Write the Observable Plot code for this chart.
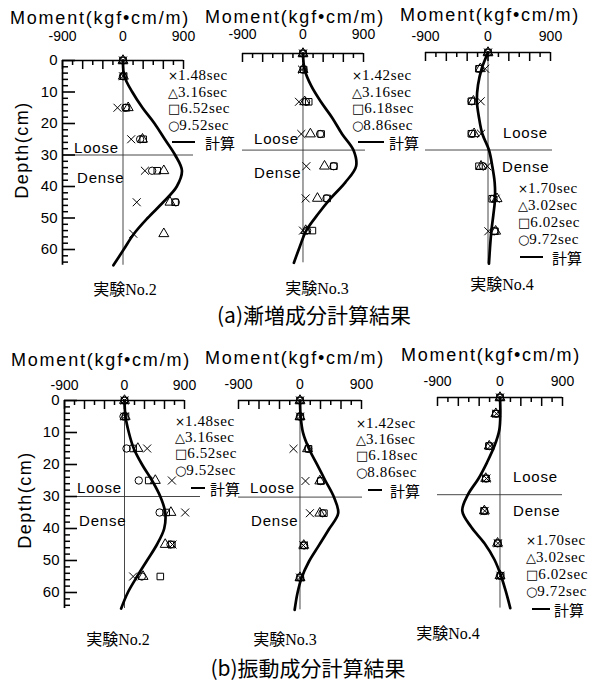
<!DOCTYPE html>
<html><head><meta charset="utf-8">
<script src="https://cdn.jsdelivr.net/npm/d3@7"></script>
<script src="https://cdn.jsdelivr.net/npm/@observablehq/plot@0.6"></script>
<style>
body{margin:0;background:#fff;}
#root{position:relative;width:598px;height:684px;overflow:hidden;background:#fff;color:#000;}
.abs{position:absolute;white-space:nowrap;line-height:1;}
</style></head><body><div id="root"></div>
<script>
const SANS = '"Liberation Sans", Arial, "Noto Sans CJK JP", sans-serif';
const SERIF = '"Liberation Serif", "Times New Roman", "Noto Sans CJK JP", serif';
const CJK = '"Noto Sans CJK JP", sans-serif';
const SYMF = '"DejaVu Sans", sans-serif';

// ---- data ----
const obsDepth = [0, 5, 15, 25, 35, 45, 55];
const calcDepth = [0, 5, 10, 15, 20, 25, 30, 35, 40, 45, 50, 55, 60, 65];
const xTickLabels = [-900, 0, 900];
const xTicksMinor = [-750, -450, -150, 150, 450, 750];
const xTicksMajor = [-900, -600, -300, 0, 300, 600, 900];
const depthTickLabels = [0, 10, 20, 30, 40, 50, 60];
const depthTicksMinor = [2,4,6,8,12,14,16,18,22,24,26,28,32,34,36,38,42,44,46,48,52,54,56,58,62,64];
const symbolNames = ["times", "triangle", "square", "circle"];
const legendGlyphs = ["×", "△", "□", "○"];

// (a) 漸増成分  実験No.2
const a2Periods = ["1.48sec", "3.16sec", "6.52sec", "9.52sec"];
const a2Times = [0, 0, -82, 122, 326, 204, 153];
const a2Tri   = [0, 5, 77, 290, 607, 699, 607];
const a2Sq    = [0, 10, 51, 300, 510, 775, null];
const a2Circ  = [0, 0, 36, 255, 434, 785, null];
const a2Calc  = [0, 20, 138, 290, 469, 622, 775, 877, 800, 597, 367, 163, 10, -143];
// (a) 実験No.3
const a3Periods = ["1.42sec", "3.16sec", "6.18sec", "8.86sec"];
const a3Times = [0, -15, -60, -25, 50, 40, 0];
const a3Tri   = [0, 0, 25, 110, 320, 215, 40];
const a3Sq    = [0, 10, 85, 270, 460, 360, 140];
const a3Circ  = [0, 5, 45, 255, 455, 350, 60];
const a3Calc  = [0, 24, 121, 266, 436, 581, 750, 790, 630, 411, 218, 48, -48, -135];
// (a) 実験No.4
const a4Periods = ["1.70sec", "3.02sec", "6.02sec", "9.72sec"];
const a4Times = [0, -40, -105, -100, -10, 110, 5];
const a4Tri   = [0, -110, -210, -200, -100, 130, 110];
const a4Sq    = [0, -130, -240, -240, -130, 60, 100];
const a4Circ  = [0, -125, -235, -230, -70, 80, 90];
const a4Calc  = [0, -91, -144, -160, -130, -82, 14, 62, 96, 101, 77, 48, 29, 14];
// (b) 振動成分  実験No.2
const b2Times = [0, 5, 340, 711, 910, 720, 130];
const b2Tri   = [0, 10, 200, 462, 696, 611, 278];
const b2Sq    = [0, 15, 130, 363, 626, 711, 537];
const b2Circ  = [0, -15, 30, 214, 527, 690, 260];
const b2Calc  = [0, 15, 65, 139, 263, 413, 537, 611, 596, 487, 338, 189, 50, -50];
// (b) 実験No.3
const b3Times = [0, 0, -95, 80, 145, 50, 0];
const b3Tri   = [0, 0, 110, 290, 290, 55, 0];
const b3Sq    = [0, 5, 125, 305, 350, 60, 5];
const b3Circ  = [0, 0, 120, 300, 330, 60, 0];
const b3Calc  = [0, 10, 44, 131, 253, 374, 496, 559, 423, 277, 131, 24, -39, -78];
// (b) 実験No.4
const b4Times = [0, -50, -140, -195, -220, -30, 5];
const b4Tri   = [0, -60, -155, -205, -225, -35, 0];
const b4Sq    = [0, -60, -160, -205, -230, -30, 10];
const b4Circ  = [0, -55, -150, -200, -225, -35, 0];
const b4Calc  = [0, 5, -10, -81, -186, -309, -462, -543, -414, -224, -81, 14, 86, 148];

const root = document.getElementById("root");

function addText(str, x, y, o = {}) {
  const el = document.createElement("div");
  el.className = "abs";
  el.textContent = str;
  el.style.left = x + "px";
  el.style.top = y + "px";
  el.style.fontSize = (o.size || 15) + "px";
  el.style.fontFamily = o.family || SANS;
  el.style.letterSpacing = (o.ls || 0) + "px";
  const tx = (o.anchor || "middle") === "middle" ? "-50%" : (o.anchor === "start" ? "0" : "-100%");
  el.style.transform = `translate(${tx}, -50%)` + (o.rotate ? ` rotate(${o.rotate}deg)` : "");
  root.appendChild(el);
  return el;
}

function legend(periods, x, ys, lineX0, lineX1, textX) {
  periods.forEach((p, i) => {
    const el = document.createElement("div");
    el.className = "abs";
    el.style.left = x + "px";
    el.style.top = ys[i] + "px";
    el.style.transform = "translate(0,-50%)";
    const g = document.createElement("span");
    g.textContent = legendGlyphs[i];
    g.style.fontFamily = SYMF;
    g.style.fontSize = (i === 0 ? 12 : 13) + "px";
    const t = document.createElement("span");
    t.textContent = p;
    t.style.fontFamily = SERIF;
    t.style.fontSize = "15px";
    t.style.letterSpacing = "0.6px";
    el.appendChild(g); el.appendChild(t);
    root.appendChild(el);
  });
  const ln = document.createElement("div");
  ln.className = "abs";
  ln.style.left = lineX0 + "px";
  ln.style.top = (ys[4] - 1.3) + "px";
  ln.style.width = (lineX1 - lineX0) + "px";
  ln.style.height = "2.6px";
  ln.style.background = "#000";
  root.appendChild(ln);
  addText("計算", textX, ys[4], {family: CJK, size: 15, anchor: "start"});
}

function panel(cfg) {
  const mT = 50, mL = 60, mR = 20, mB = 4;
  const fw = cfg.right - cfg.left, fh = 65 * cfg.ppc;
  const width = mL + fw + mR, height = mT + fh + mB;
  const unitsPerPx = 1800 / fw;
  const series = [cfg.times, cfg.tri, cfg.sq, cfg.circ];
  const marks = [
    Plot.ruleX([0], {stroke: "#333", strokeWidth: 0.9}),
    Plot.ruleY([30], {stroke: "#333", strokeWidth: 0.9, insetRight: -(cfg.extR || 0)}),
    Plot.ruleY([0], {stroke: "#000", strokeWidth: 1.7}),
    Plot.ruleX(xTicksMinor, {y1: 0, y2: 5 / cfg.ppc, stroke: "#000", strokeWidth: 1.5}),
    Plot.ruleX(xTicksMajor, {y1: 0, y2: 9 / cfg.ppc, stroke: "#000", strokeWidth: 1.5}),
    Plot.axisX({anchor: "top", ticks: xTickLabels, tickSize: 0, tickPadding: cfg.tp, fontSize: 14, tickFormat: d => String(d), label: null})
  ];
  if (cfg.yAxis) {
    marks.push(
      Plot.ruleX([-900], {stroke: "#000", strokeWidth: 1.7}),
      Plot.ruleY(depthTicksMinor, {x1: -900, x2: -900 + 6 * unitsPerPx, stroke: "#000", strokeWidth: 1.5}),
      Plot.ruleY(depthTickLabels, {x1: -900, x2: -900 + 13 * unitsPerPx, stroke: "#000", strokeWidth: 1.6}),
      Plot.axisY({anchor: "left", ticks: depthTickLabels, tickSize: 0, tickPadding: 5, fontSize: 15, tickFormat: d => String(d), label: null})
    );
  }
  marks.push(Plot.line(calcDepth.map((d, i) => ({d, v: cfg.calc[i]})),
    {x: "v", y: "d", curve: "catmull-rom", stroke: "#000", strokeWidth: 2.7}));
  series.forEach((vals, k) => {
    const rows = obsDepth.map((d, i) => ({d, v: vals[i]})).filter(r => r.v != null);
    marks.push(Plot.dot(rows, {x: "v", y: "d", symbol: symbolNames[k], r: 3.7, stroke: "#000", strokeWidth: 1, fill: "none"}));
  });
  const svg = Plot.plot({
    width, height, marginTop: mT, marginLeft: mL, marginRight: mR, marginBottom: mB,
    x: {domain: [-900, 900], axis: null},
    y: {domain: [0, 65], reverse: true, axis: null},
    style: {background: "transparent", overflow: "visible", fontFamily: SANS, color: "#000"},
    marks
  });
  svg.style.position = "absolute";
  svg.style.left = (cfg.left - mL) + "px";
  svg.style.top = (cfg.y0 - mT) + "px";
  svg.style.maxWidth = "none";
  root.appendChild(svg);
}

// ---- row (a) ----
panel({left: 62, right: 183, y0: 60, ppc: 3.15, tp: 20, yAxis: true, extR: 10,
  times: a2Times, tri: a2Tri, sq: a2Sq, circ: a2Circ, calc: a2Calc});
panel({left: 242, right: 363, y0: 53, ppc: 3.22, tp: 14, extR: 2,
  times: a3Times, tri: a3Tri, sq: a3Sq, circ: a3Circ, calc: a3Calc});
panel({left: 425, right: 550, y0: 52, ppc: 3.25, tp: 12, extR: 2,
  times: a4Times, tri: a4Tri, sq: a4Sq, circ: a4Circ, calc: a4Calc});
// ---- row (b) ----
panel({left: 64, right: 184, y0: 400, ppc: 3.2, tp: 11, yAxis: true, extR: 16,
  times: b2Times, tri: b2Tri, sq: b2Sq, circ: b2Circ, calc: b2Calc});
panel({left: 238, right: 361, y0: 400, ppc: 3.22, tp: 11, extR: 1,
  times: b3Times, tri: b3Tri, sq: b3Sq, circ: b3Circ, calc: b3Calc});
panel({left: 437, right: 562, y0: 397, ppc: 3.24, tp: 11, extR: 0,
  times: b4Times, tri: b4Tri, sq: b4Sq, circ: b4Circ, calc: b4Calc});

// axis titles
const momentLabel = "Moment(kgf•cm/m)";
[[100, 18], [295, 17], [490, 15], [101, 360], [295, 358], [491, 355]].forEach(([x, y]) =>
  addText(momentLabel, x, y, {size: 18, ls: 1.8}));
addText("Depth(cm)", 22, 150, {size: 18, ls: 1.5, rotate: -90});
addText("Depth(cm)", 25, 500, {size: 18, ls: 1.5, rotate: -90});

// Loose / Dense
[[74,147,77,177],[254,138,254,172],[503,132,502,166],[77,487,79,520],[250,487,251,520],[513,476,513,510]]
  .forEach(([lx, ly, dx, dy]) => {
    addText("Loose", lx, ly, {size: 15, ls: 0.8, anchor: "start"});
    addText("Dense", dx, dy, {size: 15, ls: 0.8, anchor: "start"});
  });

// legends
legend(a2Periods, 168, [75, 92, 108, 125, 142], 172, 195, 205);
legend(a3Periods, 352, [75, 92, 108, 125, 142], 358, 384, 389);
legend(a4Periods, 518, [188, 205, 222, 239, 257], 520, 543, 552);
legend(a2Periods, 175, [421, 437, 453, 470, 488], 191, 205, 210);
legend(a3Periods, 356, [423, 439, 455, 472, 490], 368, 382, 390);
legend(a4Periods, 526, [540, 557, 574, 591, 609], 532, 550, 554);

// captions
[["実験No.2", 125, 290], ["実験No.3", 317, 289], ["実験No.4", 502, 285],
 ["実験No.2", 118, 640], ["実験No.3", 285, 640], ["実験No.4", 448, 634]]
  .forEach(([s, x, y]) => addText(s, x, y, {size: 16, family: SERIF}));
addText("(a)漸増成分計算結果", 314, 314, {size: 21, family: CJK});
addText("(b)振動成分計算結果", 308, 667, {size: 21, family: CJK});
</script></body></html>
